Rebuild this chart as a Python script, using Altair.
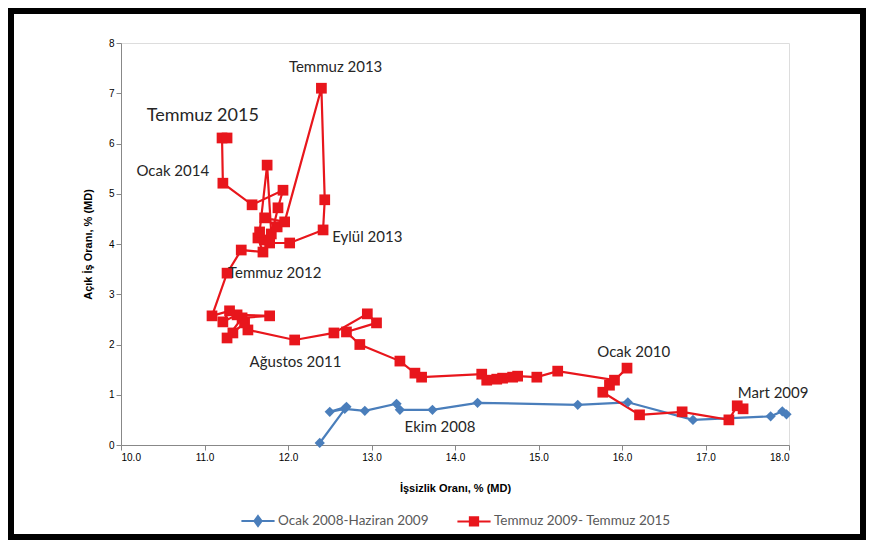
import altair as alt
import pandas as pd

# --- data -----------------------------------------------------------------
series_names = ["Ocak 2008-Haziran 2009", "Temmuz 2009- Temmuz 2015"]

blue_x = [12.38, 12.70, 12.50, 12.68, 12.92, 13.30, 13.34, 13.73, 14.27,
          15.47, 16.07, 16.85, 17.78, 17.92, 17.97]
blue_y = [0.04, 0.76, 0.66, 0.72, 0.68, 0.82, 0.70, 0.70, 0.84,
          0.80, 0.85, 0.50, 0.57, 0.67, 0.61]

red_x = [17.45, 17.38, 17.28, 16.72, 16.21, 15.77, 15.85, 16.06, 15.91,
         15.23, 14.98, 14.75, 14.69, 14.57, 14.50, 14.38, 14.32, 13.60,
         13.52, 13.34, 12.86, 12.70, 13.06, 12.95, 12.55, 12.08, 11.52,
         11.48, 11.34, 11.27, 11.45, 11.78, 11.39, 11.22, 11.30, 11.09,
         11.27, 11.44, 11.70, 11.64, 11.72, 11.66, 11.75, 11.80, 11.87,
         11.72, 11.96, 12.40, 12.44, 12.42, 12.02, 11.78, 11.88, 11.94,
         11.57, 11.22, 11.21, 11.27]
red_y = [0.72, 0.78, 0.50, 0.66, 0.60, 1.05, 1.19, 1.53, 1.29,
         1.47, 1.35, 1.37, 1.35, 1.33, 1.31, 1.29, 1.41, 1.35,
         1.43, 1.67, 2.00, 2.25, 2.43, 2.61, 2.23, 2.09, 2.29,
         2.43, 2.23, 2.13, 2.53, 2.57, 2.59, 2.45, 2.67, 2.57,
         3.42, 3.88, 3.84, 4.12, 4.08, 4.24, 5.57, 4.20, 4.34,
         4.52, 4.44, 7.10, 4.88, 4.28, 4.02, 4.02, 4.72, 5.07,
         4.78, 5.21, 6.11, 6.11]

label_text = ["Temmuz 2015", "Temmuz 2013", "Ocak 2014", "Eylül 2013",
              "Temmuz 2012", "Ağustos 2011", "Ocak 2010", "Ekim 2008",
              "Mart 2009"]
label_x = [10.98, 12.57, 10.62, 12.95, 11.84, 12.09, 16.14, 13.82, 17.81]
label_y = [6.55, 7.52, 5.45, 4.14, 3.42, 1.65, 1.85, 0.36, 1.03]
label_size = [18, 15, 15, 15, 15, 15, 15, 15, 15]

x_ticks = [10, 11, 12, 13, 14, 15, 16, 17, 18]
y_ticks = [0, 1, 2, 3, 4, 5, 6, 7, 8]

BLUE = "#4a7ebb"
RED = "#e8161c"
FONT = "Lato"

# --- tables ------------------------------------------------------------------
blue = pd.DataFrame({"x": blue_x, "y": blue_y, "i": range(len(blue_x)),
                     "s": series_names[0]})
red = pd.DataFrame({"x": red_x, "y": red_y, "i": range(len(red_x)),
                    "s": series_names[1]})
both = pd.concat([blue, red], ignore_index=True)
labels = pd.DataFrame({"t": label_text, "x": label_x, "y": label_y,
                       "size": label_size})

xs = alt.Scale(domain=[10, 18], nice=False, zero=False)
ys = alt.Scale(domain=[0, 8], nice=False)

x_axis = alt.Axis(values=x_ticks, format=".1f", grid=False,
                  title="İşsizlik Oranı, % (MD)", titlePadding=20)
y_axis = alt.Axis(values=y_ticks, grid=False,
                  title="Açık İş Oranı, % (MD)", titlePadding=15)

X = alt.X("x:Q", scale=xs, axis=x_axis)
Y = alt.Y("y:Q", scale=ys, axis=y_axis)

color_scale = alt.Scale(domain=series_names, range=[BLUE, RED])

lines = alt.Chart(both).mark_line(strokeWidth=2.2).encode(
    x=X, y=Y, detail="s:N",
    color=alt.Color("s:N", scale=color_scale, legend=None),
    order="i:Q",
)

blue_pts = alt.Chart(blue).mark_point(shape="diamond", filled=True, size=105,
                                      opacity=1, color=BLUE).encode(x=X, y=Y)
red_pts = alt.Chart(red).mark_point(shape="square", filled=True, size=115,
                                    opacity=1, color=RED).encode(x=X, y=Y)

text = alt.Chart(labels).mark_text(font=FONT, color="#262626",
                                   baseline="middle", align="center").encode(
    x=X, y=Y, text="t:N", size=alt.Size("size:Q", scale=None))

# legend-only layer (no marks drawn)
diamond_path = "M-1,0L1,0M0,-0.3L0.22,0L0,0.3L-0.22,0Z"
square_path = "M-1,0L1,0M-0.25,-0.25L0.25,-0.25L0.25,0.25L-0.25,0.25Z"


def leg():
    return alt.Legend(title=None, orient="none", direction="horizontal",
                      legendX=119, legendY=460, symbolSize=1100,
                      symbolStrokeWidth=2, symbolOpacity=1, labelFont=FONT,
                      labelFontSize=13.5, labelColor="#595959", labelLimit=0,
                      labelOffset=2, columnPadding=24)


legend_layer = alt.Chart(both).transform_filter("datum.x > 100").mark_point(
    filled=True, strokeWidth=2, opacity=1).encode(
    x=X, y=Y,
    fill=alt.Fill("s:N", scale=alt.Scale(domain=series_names, range=[BLUE, RED]),
                  legend=leg()),
    stroke=alt.Stroke("s:N", scale=alt.Scale(domain=series_names, range=[BLUE, RED]),
                      legend=leg()),
    shape=alt.Shape("s:N", scale=alt.Scale(domain=series_names,
                                           range=[diamond_path, square_path]),
                    legend=leg()),
)

frame = alt.Chart(pd.DataFrame({"k": [0]})).mark_rect(
    fillOpacity=0, stroke="black", strokeWidth=6).encode(
    x=alt.value(-110), x2=alt.value(742), y=alt.value(-32), y2=alt.value(494))

chart = alt.layer(lines, blue_pts, red_pts, text, legend_layer, frame).resolve_scale(
    color="independent", fill="independent", stroke="independent", shape="independent"
).properties(
    width=668, height=402,
    padding={"left": 113, "top": 35, "right": 77, "bottom": 95},
    autosize=alt.AutoSizeParams(type="none"),
).configure_view(stroke=None).configure_axis(
    domainColor="#bfbfbf", tickColor="#bfbfbf", tickSize=5,
    labelColor="#595959", labelFont=FONT, labelFontSize=12.5,
    titleFont=FONT, titleFontSize=12, titleFontWeight="bold", titleColor="#262626",
).configure(background="white")

chart.save("out.html", embed_options={"renderer": "svg", "actions": False})
